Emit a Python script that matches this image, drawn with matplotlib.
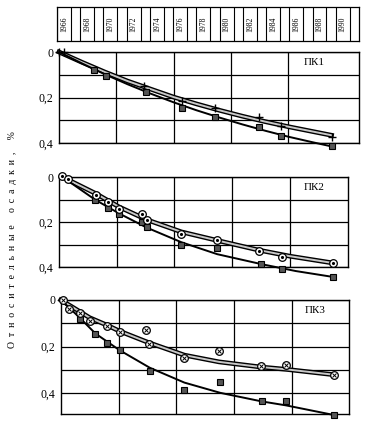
import matplotlib
matplotlib.use('Agg')
import matplotlib.pyplot as plt

plt.rcParams['font.family'] = ['Liberation Serif', 'DejaVu Serif']

W, H = 370, 432

# years shown in the strip on top
strip_years = list(range(1966, 1991, 2))

# ПК1: "+" series and square series, points and the drawn trend curves
pk1_plus_t = [1966.0, 1966.4, 1973.4, 1976.7, 1979.6, 1983.5, 1985.4, 1989.8]
pk1_plus_v = [0.0, 0.0, 0.151, 0.216, 0.245, 0.284, 0.324, 0.372]
pk1_sq_t = [1969.1, 1970.1, 1973.6, 1976.7, 1979.6, 1983.5, 1985.4, 1989.8]
pk1_sq_v = [0.081, 0.107, 0.175, 0.245, 0.284, 0.329, 0.368, 0.412]
pk1_plus_fit_t = [1966.0, 1968.0, 1970.0, 1972.0, 1974.0, 1976.0, 1978.0, 1980.0, 1982.0, 1984.0, 1986.0, 1988.0, 1989.8]
pk1_plus_fit_v = [0.0, 0.045, 0.088, 0.128, 0.163, 0.198, 0.228, 0.256, 0.282, 0.306, 0.328, 0.348, 0.366]
pk1_sq_fit_t = [1966.0, 1968.0, 1970.0, 1972.0, 1974.0, 1976.0, 1978.0, 1980.0, 1982.0, 1984.0, 1986.0, 1988.0, 1989.8]
pk1_sq_fit_v = [0.0, 0.05, 0.098, 0.142, 0.183, 0.221, 0.256, 0.288, 0.318, 0.346, 0.372, 0.395, 0.415]

# ПК2: circles and squares
pk2_circ_t = [1966.3, 1966.75, 1969.2, 1970.2, 1971.2, 1973.2, 1973.6, 1976.6, 1979.7, 1983.3, 1985.3, 1989.7]
pk2_circ_v = [-0.005, 0.007, 0.079, 0.111, 0.141, 0.166, 0.19, 0.252, 0.281, 0.329, 0.356, 0.382]
pk2_sq_t = [1969.1, 1970.2, 1971.2, 1973.2, 1973.6, 1976.6, 1979.7, 1983.5, 1985.3, 1989.7]
pk2_sq_v = [0.104, 0.136, 0.163, 0.2, 0.222, 0.304, 0.316, 0.388, 0.407, 0.444]
pk2_circ_fit_t = [1966.3, 1969.2, 1971.2, 1973.6, 1976.6, 1979.7, 1983.3, 1986.0, 1989.7]
pk2_circ_fit_v = [0.0, 0.074, 0.133, 0.19, 0.244, 0.282, 0.325, 0.352, 0.382]
pk2_sq_fit_t = [1966.3, 1969.1, 1971.2, 1973.6, 1976.6, 1979.7, 1983.5, 1986.5, 1989.7]
pk2_sq_fit_v = [0.0, 0.1, 0.162, 0.225, 0.29, 0.343, 0.387, 0.418, 0.444]

# ПК3: crossed circles and squares
pk3_circ_t = [1966.2, 1966.7, 1967.7, 1968.5, 1970.0, 1971.1, 1973.4, 1973.6, 1976.7, 1979.7, 1983.3, 1985.5, 1989.6]
pk3_circ_v = [0.0, 0.04, 0.055, 0.091, 0.111, 0.137, 0.13, 0.187, 0.249, 0.22, 0.285, 0.278, 0.324]
pk3_sq_t = [1967.7, 1969.0, 1970.0, 1971.1, 1973.7, 1976.7, 1979.8, 1983.4, 1985.5, 1989.6]
pk3_sq_v = [0.083, 0.148, 0.183, 0.216, 0.306, 0.386, 0.353, 0.435, 0.435, 0.496]
pk3_circ_fit_t = [1966.0, 1967.1, 1968.5, 1970.0, 1971.1, 1973.6, 1976.7, 1979.7, 1983.3, 1985.5, 1989.6]
pk3_circ_fit_v = [0.0, 0.033, 0.076, 0.108, 0.134, 0.183, 0.237, 0.266, 0.288, 0.298, 0.321]
pk3_sq_fit_t = [1966.0, 1966.8, 1967.7, 1969.0, 1971.1, 1973.7, 1976.7, 1979.8, 1983.4, 1985.5, 1989.6]
pk3_sq_fit_v = [0.0, 0.036, 0.079, 0.144, 0.216, 0.291, 0.355, 0.399, 0.436, 0.453, 0.494]

grid_years = [1971, 1976, 1981, 1986]
y_ticks = [0, 0.1, 0.2, 0.3, 0.4]
y_labels = ['0', '', '0,2', '', '0,4']


def px_axes(fig, left, right, top, bottom):
    return fig.add_axes([left / W, 1 - bottom / H, (right - left) / W, (bottom - top) / H])


def setup(ax, xmax, ymax, name, name_x):
    ax.set_xlim(1966, xmax)
    ax.set_ylim(ymax, 0)
    ax.set_xticks(grid_years)
    ax.set_xticklabels([])
    ax.set_yticks(y_ticks)
    ax.set_yticklabels(y_labels, fontsize=8.5)
    ax.tick_params(length=0, pad=4)
    ax.grid(True, color='k', lw=0.9)
    ax.set_axisbelow(True)
    for s in ax.spines.values():
        s.set_linewidth(1.0)
    ax.text(name_x, 0.045, name, fontsize=8, ha='center', va='center')


def double_line(ax, t, v):
    ax.plot(t, v, color='k', lw=3.4, clip_on=False, zorder=3)
    ax.plot(t, v, color='#c8c8c8', lw=1.4, clip_on=False, zorder=3)


def black_line(ax, t, v):
    ax.plot(t, v, color='k', lw=1.4, clip_on=False, zorder=3)


def squares(ax, t, v):
    ax.plot(t, v, 's', ms=4, mfc='#555555', mec='k', mew=0.8, clip_on=False, zorder=4)


def circles(ax, t, v, inner):
    ax.plot(t, v, 'o', ms=5.5, mfc='white', mec='k', mew=0.9, clip_on=False, zorder=4)
    if inner == 'x':
        ax.plot(t, v, 'x', ms=3, color='k', mew=0.7, clip_on=False, zorder=5)
    else:
        ax.plot(t, v, '.', ms=2.5, color='k', clip_on=False, zorder=5)


fig = plt.figure(figsize=(W / 100, H / 100), dpi=100)

# year strip
ax_s = px_axes(fig, 57, 359, 7, 41)
ax_s.set_xlim(1966, 1992)
ax_s.set_ylim(0, 1)
ax_s.set_xticks([])
ax_s.set_yticks([])
for s in ax_s.spines.values():
    s.set_linewidth(0.9)
for y in strip_years:
    ax_s.axvline(y, color='k', lw=0.8)
    ax_s.axvline(y + 1.2, color='k', lw=0.8)
    ax_s.text(y + 0.6, 0.5, str(y), rotation=90, fontsize=5.5, ha='center', va='center')

# ПК1
ax1 = px_axes(fig, 59, 359, 52, 143)
setup(ax1, 1966 + 300 / 11.45, 0.4, 'ПК1', 1966 + 255 / 11.45)
double_line(ax1, pk1_plus_fit_t, pk1_plus_fit_v)
black_line(ax1, pk1_sq_fit_t, pk1_sq_fit_v)
squares(ax1, pk1_sq_t, pk1_sq_v)
ax1.plot(pk1_plus_t, pk1_plus_v, '+', ms=6, color='k', mew=1.0, clip_on=False, zorder=5)

# ПК2
ax2 = px_axes(fig, 59, 348, 177, 267)
setup(ax2, 1966 + 289 / 11.55, 0.4, 'ПК2', 1966 + 255 / 11.55)
double_line(ax2, pk2_circ_fit_t, pk2_circ_fit_v)
black_line(ax2, pk2_sq_fit_t, pk2_sq_fit_v)
squares(ax2, pk2_sq_t, pk2_sq_v)
circles(ax2, pk2_circ_t, pk2_circ_v, 'dot')

# ПК3
ax3 = px_axes(fig, 60.7, 349, 300, 414)
setup(ax3, 1966 + 288.3 / 11.56, 0.49, 'ПК3', 1966 + 254 / 11.56)
double_line(ax3, pk3_circ_fit_t, pk3_circ_fit_v)
black_line(ax3, pk3_sq_fit_t, pk3_sq_fit_v)
squares(ax3, pk3_sq_t, pk3_sq_v)
circles(ax3, pk3_circ_t, pk3_circ_v, 'x')

# letter-spaced axis title, as in the print
label = '\u2002'.join('Относительные осадки, %')
fig.text(13 / W, 1 - 240 / H, label, rotation=90, fontsize=7, ha='center', va='center')

fig.savefig('out.png', dpi=100)
